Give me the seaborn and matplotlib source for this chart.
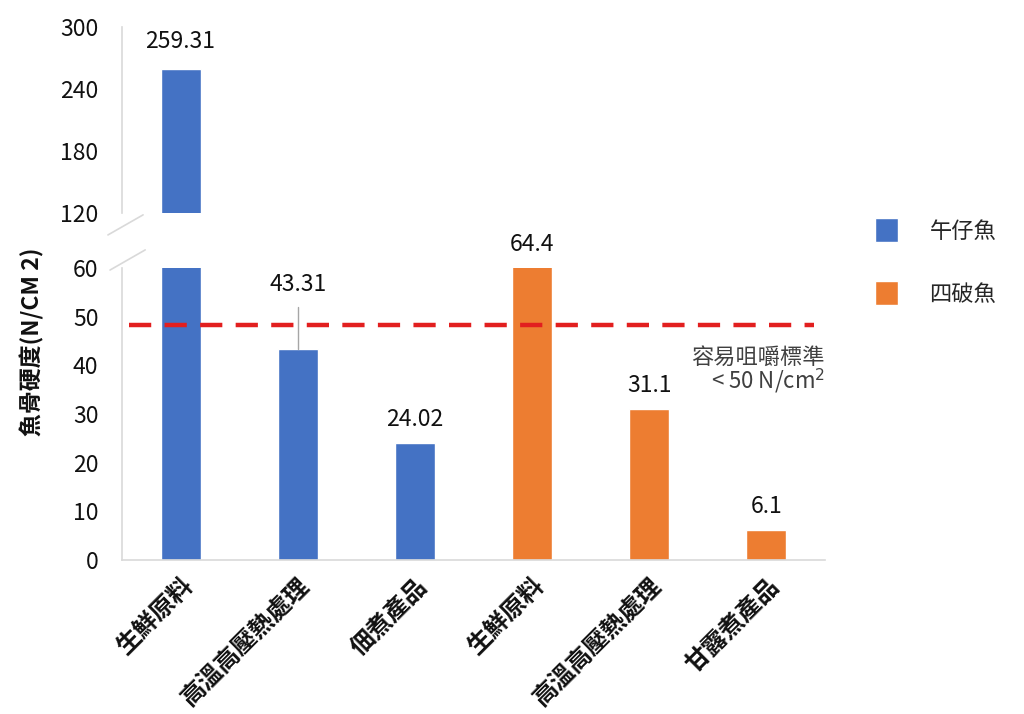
import matplotlib
matplotlib.use("Agg")
import matplotlib.pyplot as plt
import seaborn as sns
import pandas as pd

sns.set_theme(style="white")
plt.rcParams['font.family'] = ['Noto Sans CJK TC', 'DejaVu Sans']

categories = ["生鮮原料", "高溫高壓熱處理", "佃煮產品", "生鮮原料", "高溫高壓熱處理", "甘露煮產品"]
species = ["午仔魚", "午仔魚", "午仔魚", "四破魚", "四破魚", "四破魚"]
values = [259.31, 43.31, 24.02, 64.4, 31.1, 6.1]
labels = ["259.31", "43.31", "24.02", "64.4", "31.1", "6.1"]
threshold = 48.3
threshold_text = ["容易咀嚼標準", "< 50 N/cm$^2$"]
ylabel = "魚骨硬度(N/CM 2)"
palette = {"午仔魚": "#4472C4", "四破魚": "#ED7D31"}
bottom_ticks = [0, 10, 20, 30, 40, 50, 60]
top_ticks = [120, 180, 240, 300]

df = pd.DataFrame({"pos": list(range(len(values))), "value": values, "species": species})

fig = plt.figure(figsize=(10.24, 7.14), dpi=100)
left, width = 122 / 1024, 703 / 1024
ax_top = fig.add_axes([left, 1 - 213 / 714, width, 186 / 714])
ax_bot = fig.add_axes([left, 1 - 560 / 714, width, 292 / 714])

for ax in (ax_top, ax_bot):
    sns.barplot(data=df, x="pos", y="value", hue="species", palette=palette,
                dodge=False, width=0.34, ax=ax, saturation=1)
    ax.set_xlim(-0.5, len(values) - 0.5)
    ax.set_xlabel("")
    ax.set_ylabel("")
    if ax.get_legend():
        ax.get_legend().remove()
    for s in ["top", "right"]:
        ax.spines[s].set_visible(False)
    ax.spines["left"].set_color("#d9d9d9")
    ax.spines["left"].set_linewidth(1.2)
    ax.tick_params(axis="y", length=0, pad=17, labelsize=16.5, labelcolor="#111111")

ax_top.set_ylim(120, 300)
ax_top.set_yticks(top_ticks)
ax_top.spines["bottom"].set_visible(False)
ax_top.set_xticks([])

ax_bot.set_ylim(0, 60)
ax_bot.set_yticks(bottom_ticks)
ax_bot.spines["bottom"].set_color("#d9d9d9")
ax_bot.spines["bottom"].set_linewidth(1.2)
ax_bot.set_xticks(range(len(categories)))
ax_bot.set_xticklabels(categories, rotation=45, ha="right", rotation_mode="anchor",
                       fontsize=17.5, fontweight="bold", color="#111111")
ax_bot.tick_params(axis="x", length=0, pad=10)

# break marks
kw = dict(color="#d9d9d9", lw=1.2, clip_on=False)
ax_top.plot([-0.02, 0.03], [-0.118, -0.01], transform=ax_top.transAxes, **kw)
ax_bot.plot([-0.017, 0.033], [0.993, 1.062], transform=ax_bot.transAxes, **kw)

# threshold line
ax_bot.axhline(threshold, xmin=0.01, xmax=0.985, color="#e21f1f", lw=3.2,
               linestyle=(0, (5, 3)), zorder=5)
ax_bot.text(len(values) - 0.5, 41.7, threshold_text[0], ha="right", va="center",
            fontsize=16, color="#404040")
ax_bot.text(len(values) - 0.5, 36.6, threshold_text[1], ha="right", va="center",
            fontsize=16, color="#404040")

# value labels
for i, (v, lab) in enumerate(zip(values, labels)):
    if v > 120:
        ax_top.annotate(lab, (i, v), xytext=(0, 20), textcoords="offset points",
                        ha="center", va="center", fontsize=16.5, color="#111111")
    elif i == 1:
        ax_bot.plot([i, i], [v, v + 8.7], color="#a6a6a6", lw=1, zorder=6)
        ax_bot.annotate(lab, (i, v + 8.7), xytext=(0, 16), textcoords="offset points",
                        ha="center", va="center", fontsize=16.5, color="#111111")
    else:
        ax_bot.annotate(lab, (i, min(v, 60)), xytext=(0, 17), textcoords="offset points",
                        ha="center", va="center", fontsize=16.5, color="#111111",
                        annotation_clip=False)

fig.text(32 / 1024, 1 - 342 / 714, ylabel, rotation=90, ha="center", va="center",
         fontsize=16.5, fontweight="bold", color="#111111")

handles, hlabels = ax_bot.get_legend_handles_labels()
fig.legend(handles, hlabels, loc="center left", bbox_to_anchor=(0.835, 0.633),
           frameon=False, fontsize=16, handlelength=1.05, handleheight=1.25,
           labelspacing=1.75, handletextpad=1.4)

fig.savefig("out.png", dpi=100)
